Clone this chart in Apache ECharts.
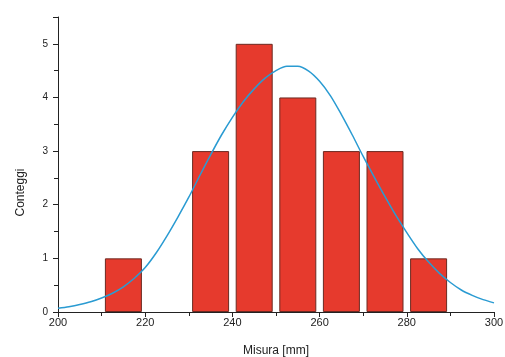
<!DOCTYPE html>
<html>
<head>
<meta charset="utf-8">
<script src="https://cdn.jsdelivr.net/npm/echarts@6/dist/echarts.min.js"></script>
<style>html,body{margin:0;padding:0;background:#fff}#c{width:505px;height:357px}</style>
</head>
<body>
<div id="c"></div>
<script>
// Histogram bins (bin centres, mm) and counts
var binCenters = [215, 235, 245, 255, 265, 275, 285];
var counts = [1, 3, 5, 4, 3, 3, 1];
// Fitted curve (every 2.5 mm)
var curveX = [200, 202.5, 205, 207.5, 210, 212.5, 215, 217.5, 220, 222.5, 225, 227.5, 230, 232.5, 235, 237.5, 240, 242.5, 245, 247.5, 250,
              252.5, 255, 257.5, 260, 262.5, 265, 267.5, 270, 272.5, 275, 277.5, 280, 282.5, 285, 287.5, 290, 292.5, 295, 297.5, 300];
var curveY = [0.07, 0.10, 0.14, 0.19, 0.26, 0.35, 0.47, 0.63, 0.83, 1.10, 1.42, 1.77, 2.14, 2.54, 2.93, 3.30, 3.63, 3.92, 4.16, 4.36, 4.50,
              4.58, 4.58, 4.49, 4.30, 4.03, 3.68, 3.30, 2.90, 2.52, 2.15, 1.80, 1.48, 1.18, 0.93, 0.72, 0.55, 0.41, 0.31, 0.23, 0.17];
var xTicks = [200, 220, 240, 260, 280, 300];
var yTicks = [0, 1, 2, 3, 4, 5];

var chart = echarts.init(document.getElementById('c'));
var font = 'Liberation Sans, Arial, sans-serif';
chart.setOption({
  backgroundColor: '#fff',
  animation: false,
  grid: {left: 58, right: 11, top: 17, bottom: 45, outerBoundsMode: 'none', containLabel: false},
  xAxis: {
    type: 'value', min: xTicks[0], max: xTicks[xTicks.length - 1], interval: 20,
    name: 'Misura [mm]', nameLocation: 'middle', nameGap: 33,
    nameTextStyle: {fontFamily: font, fontSize: 12, color: '#222'},
    axisLine: {show: true, lineStyle: {color: '#222', width: 1}},
    axisTick: {show: true, length: 5, inside: false, lineStyle: {color: '#222'}},
    minorTick: {show: true, splitNumber: 2, length: 4, lineStyle: {color: '#222'}},
    splitLine: {show: false},
    axisLabel: {fontFamily: font, fontSize: 11, color: '#222', margin: 5}
  },
  yAxis: {
    type: 'value', min: 0, max: 5.5, interval: 1,
    name: 'Conteggi', nameLocation: 'middle', nameGap: 31,
    nameTextStyle: {fontFamily: font, fontSize: 12, color: '#222', padding: [0, 56, 0, 0]},
    axisLine: {show: true, lineStyle: {color: '#222', width: 1}},
    axisTick: {show: true, length: 5, inside: false, lineStyle: {color: '#222'}},
    minorTick: {show: true, splitNumber: 2, length: 4, lineStyle: {color: '#222'}},
    splitLine: {show: false},
    axisLabel: {fontFamily: font, fontSize: 10, color: '#222', margin: 10,
      formatter: function (v) { return yTicks.indexOf(v) >= 0 ? String(v) : ''; }}
  },
  series: [
    {
      type: 'bar',
      data: binCenters.map(function (c, i) { return [c, counts[i]]; }),
      barWidth: 37,
      itemStyle: {color: '#e63a2d', borderColor: '#6b2a22', borderWidth: 1}
    },
    {
      type: 'line',
      data: curveX.map(function (x, i) { return [x, curveY[i]]; }),
      smooth: 0.3, showSymbol: false,
      lineStyle: {color: '#2a9bd2', width: 1.5}
    }
  ]
});
</script>
</body>
</html>
